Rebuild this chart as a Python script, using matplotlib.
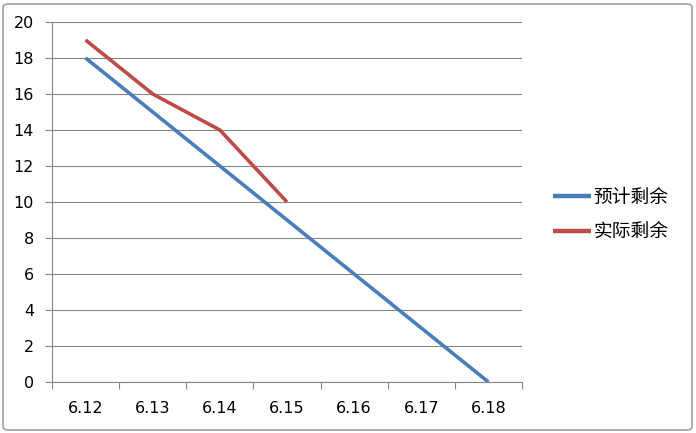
import numpy as np
import matplotlib.pyplot as plt
from matplotlib.patches import FancyBboxPatch

plt.rcParams['font.family'] = ['DejaVu Sans', 'Noto Sans CJK SC']

# datos
fechas = ['6.12', '6.13', '6.14', '6.15', '6.16', '6.17', '6.18']
previsto = [18, 15, 12, 9, 6, 3, 0]
real = [19, 16, 14, 10]
nombres = ['预计剩余', '实际剩余']

azul = '#4A7EBB'
rojo = '#BE4B48'
gris = '#868686'

fig = plt.figure(figsize=(6.96, 4.33), dpi=100)
ax = fig.add_axes([52 / 696, 51 / 433, 470 / 696, 360 / 433])

x = np.arange(len(fechas))
ax.plot(x, previsto, color=azul, lw=2.6, label=nombres[0], solid_capstyle='butt')
ax.plot(x[:len(real)], real, color=rojo, lw=2.6, label=nombres[1], solid_capstyle='butt')

ax.set_xlim(-0.5, len(fechas) - 0.5)
ax.set_ylim(0, 20)
ax.set_yticks(np.arange(0, 21, 2))
ax.set_xticks(x)
ax.set_xticklabels(fechas)
ax.set_xticks(np.arange(-0.5, len(fechas), 1), minor=True)
ax.tick_params(axis='x', which='major', length=0, pad=14, labelsize=11.5, colors='black')
ax.tick_params(axis='x', which='minor', length=5, color=gris, width=0.8)
ax.tick_params(axis='y', length=5, color=gris, width=0.8, pad=8, labelsize=11.5)

ax.yaxis.grid(True, color=gris, lw=0.8)
ax.set_axisbelow(True)
for s in ['top', 'right']:
    ax.spines[s].set_visible(False)
for s in ['left', 'bottom']:
    ax.spines[s].set_color(gris)
    ax.spines[s].set_linewidth(0.8)

leg = ax.legend(loc='center left', bbox_to_anchor=(553 / 696, 218 / 433),
                bbox_transform=fig.transFigure, frameon=False, borderpad=0,
                borderaxespad=0, handlelength=2.0, handletextpad=0.15,
                labelspacing=0.75, prop={'family': ['Noto Sans CJK SC'], 'size': 13.5})
for h in leg.get_lines():
    h.set_linewidth(3.2)

# marco exterior
fig.patches.append(FancyBboxPatch((3 / 696, 3 / 433), 689 / 696, 426 / 433,
                                  boxstyle='round,pad=0,rounding_size=0.008',
                                  transform=fig.transFigure, fill=False,
                                  edgecolor='#A0A0A0', lw=1.2))

fig.savefig('out.png', dpi=100)
